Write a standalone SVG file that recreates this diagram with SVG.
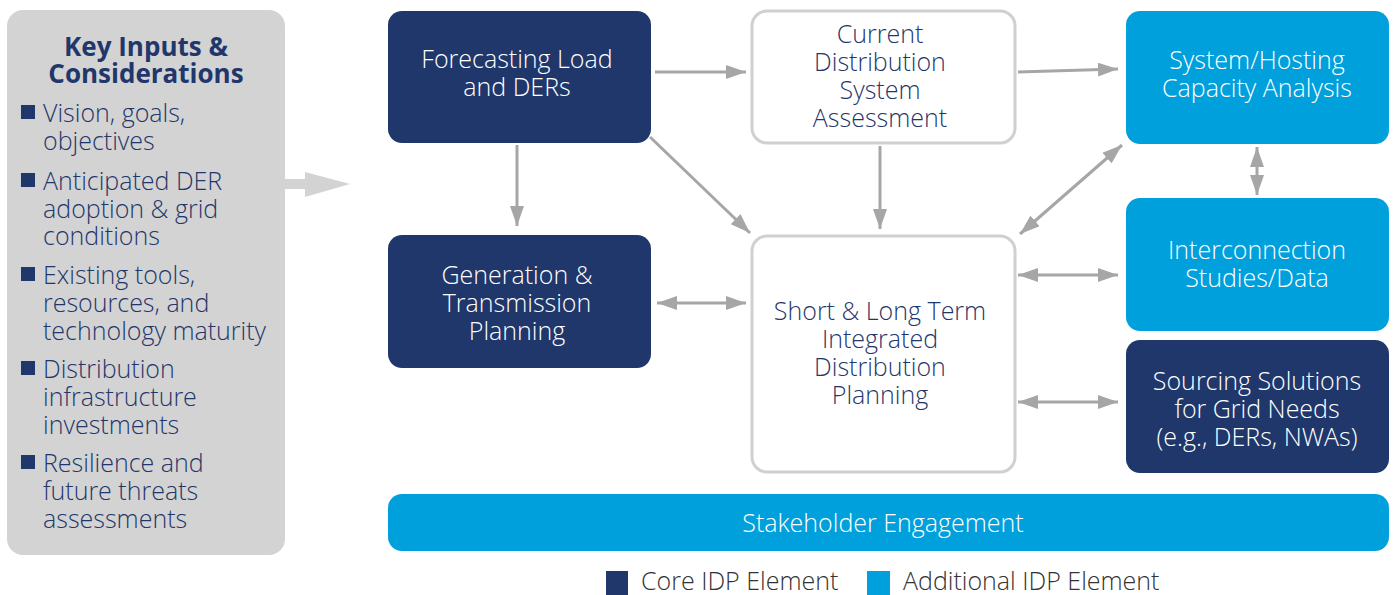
<svg xmlns="http://www.w3.org/2000/svg" width="1395" height="595" viewBox="0 0 1395 595">
<style>
text{font-family:"Open Sans","Noto Sans","Liberation Sans",sans-serif;font-weight:300;font-size:25px;text-anchor:middle}
.w{fill:#ffffff}
.n{fill:#1f376b}
.core{fill:#1f376b}
.add{fill:#00a0dc}
.out{fill:#ffffff;stroke:#d0d0d0;stroke-width:3}
.l{text-anchor:start}
.c line{stroke:#a6a6a6;stroke-width:3}
</style>
<defs>
<marker id="ah" viewBox="0 0 20 14" refX="20" refY="7" markerWidth="20" markerHeight="14" markerUnits="userSpaceOnUse" orient="auto-start-reverse">
<path d="M0,0 L20,7 L0,14 Z" fill="#a6a6a6"/>
</marker>
</defs>

<g id="inputs">
<rect x="7" y="10" width="278" height="545" rx="16" fill="#d3d3d3"/>
<text class="n" style="font-weight:700;font-size:26px"><tspan x="146" y="56">Key Inputs &amp;</tspan><tspan x="146" y="83">Considerations</tspan></text>
<g class="n">
<rect x="21" y="105" width="14" height="14"/>
<rect x="21" y="173" width="14" height="14"/>
<rect x="21" y="267" width="14" height="14"/>
<rect x="21" y="361" width="14" height="14"/>
<rect x="21" y="455" width="14" height="14"/>
</g>
<text class="n l"><tspan x="43" y="122">Vision, goals,</tspan><tspan x="43" y="150">objectives</tspan></text>
<text class="n l"><tspan x="43" y="190">Anticipated DER</tspan><tspan x="43" y="218">adoption &amp; grid</tspan><tspan x="43" y="245">conditions</tspan></text>
<text class="n l"><tspan x="43" y="284">Existing tools,</tspan><tspan x="43" y="312">resources, and</tspan><tspan x="43" y="340">technology maturity</tspan></text>
<text class="n l"><tspan x="43" y="378">Distribution</tspan><tspan x="43" y="406">infrastructure</tspan><tspan x="43" y="434">investments</tspan></text>
<text class="n l"><tspan x="43" y="472">Resilience and</tspan><tspan x="43" y="500">future threats</tspan><tspan x="43" y="528">assessments</tspan></text>
</g>

<g id="input-arrow">
<path d="M285,179 L305,179 L305,172 L350,184 L305,197 L305,189 L285,189 Z" fill="#d3d3d3"/>
</g>

<g id="forecasting">
<rect x="388" y="11" width="263" height="132" rx="14" class="core"/>
<text class="w"><tspan x="517" y="68">Forecasting Load</tspan><tspan x="517" y="96">and DERs</tspan></text>
</g>

<g id="current">
<rect x="752" y="11" width="263" height="132" rx="15" class="out"/>
<text class="n"><tspan x="880" y="43">Current</tspan><tspan x="880" y="71">Distribution</tspan><tspan x="880" y="99">System</tspan><tspan x="880" y="127">Assessment</tspan></text>
</g>

<g id="hosting">
<rect x="1126" y="11" width="263" height="133" rx="14" class="add"/>
<text class="w"><tspan x="1257" y="69">System/Hosting</tspan><tspan x="1257" y="97">Capacity Analysis</tspan></text>
</g>

<g id="generation">
<rect x="388" y="235" width="263" height="133" rx="14" class="core"/>
<text class="w"><tspan x="517" y="284">Generation &amp;</tspan><tspan x="517" y="312">Transmission</tspan><tspan x="517" y="340">Planning</tspan></text>
</g>

<g id="idp">
<rect x="752" y="236" width="263" height="236" rx="15" class="out"/>
<text class="n"><tspan x="880" y="320">Short &amp; Long Term</tspan><tspan x="880" y="348">Integrated</tspan><tspan x="880" y="376">Distribution</tspan><tspan x="880" y="404">Planning</tspan></text>
</g>

<g id="interconnection">
<rect x="1126" y="198" width="263" height="133" rx="14" class="add"/>
<text class="w"><tspan x="1257" y="259">Interconnection</tspan><tspan x="1257" y="287">Studies/Data</tspan></text>
</g>

<g id="sourcing">
<rect x="1126" y="340" width="263" height="133" rx="14" class="core"/>
<text class="w"><tspan x="1257" y="390">Sourcing Solutions</tspan><tspan x="1257" y="418">for Grid Needs</tspan><tspan x="1257" y="446">(e.g., DERs, NWAs)</tspan></text>
</g>

<g id="stakeholder">
<rect x="388" y="494" width="1001" height="57" rx="14" class="add"/>
<text x="883" y="532" class="w">Stakeholder Engagement</text>
</g>

<g id="connectors" class="c">
<line x1="655" y1="72" x2="746" y2="72" marker-end="url(#ah)"/>
<line x1="1018" y1="72" x2="1118" y2="69" marker-end="url(#ah)"/>
<line x1="517" y1="145" x2="517" y2="226" marker-end="url(#ah)"/>
<line x1="650" y1="137" x2="750" y2="233" marker-end="url(#ah)"/>
<line x1="880" y1="146" x2="880" y2="229" marker-end="url(#ah)"/>
<line x1="1020" y1="234" x2="1122" y2="145" marker-start="url(#ah)" marker-end="url(#ah)"/>
<line x1="1257" y1="147" x2="1257" y2="195" marker-start="url(#ah)" marker-end="url(#ah)"/>
<line x1="657" y1="303" x2="746" y2="303" marker-start="url(#ah)" marker-end="url(#ah)"/>
<line x1="1018" y1="275" x2="1118" y2="275" marker-start="url(#ah)" marker-end="url(#ah)"/>
<line x1="1018" y1="402" x2="1118" y2="402" marker-start="url(#ah)" marker-end="url(#ah)"/>
</g>

<g id="legend">
<rect x="606" y="571" width="22" height="24" class="core"/>
<text x="641" y="590" class="l" fill="#333333">Core IDP Element</text>
<rect x="867" y="571" width="23" height="24" class="add"/>
<text x="903" y="590" class="l" fill="#333333">Additional IDP Element</text>
</g>
</svg>
